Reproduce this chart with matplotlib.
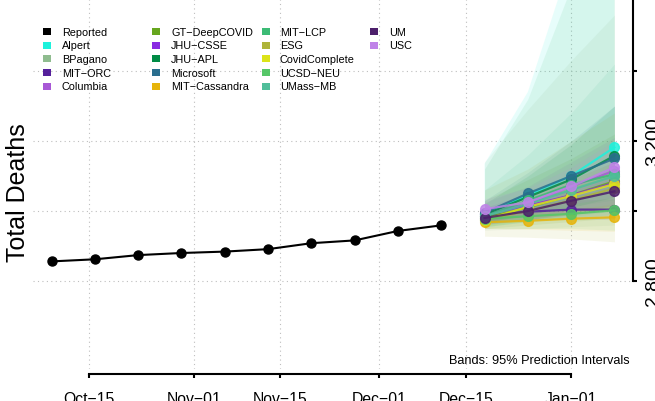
import datetime as dt
import matplotlib
matplotlib.use('Agg')
import matplotlib.pyplot as plt
import matplotlib.dates as mdates
from matplotlib.patches import Rectangle

plt.rcParams['font.family'] = ['Liberation Sans', 'DejaVu Sans']

# reported weekly totals
rep_dates = [dt.date(2021, 10, 9) + dt.timedelta(days=7 * i) for i in range(10)]
rep_vals = [2856, 2862, 2874, 2880, 2884, 2891, 2908, 2916, 2943, 2959]

# forecast dates
fc_dates = [dt.date(2021, 12, 18), dt.date(2021, 12, 25),
            dt.date(2022, 1, 1), dt.date(2022, 1, 8)]

models = ['Alpert', 'BPagano', 'MIT-ORC', 'Columbia', 'GT-DeepCOVID',
          'JHU-CSSE', 'JHU-APL', 'Microsoft', 'MIT-Cassandra', 'MIT-LCP',
          'ESG', 'CovidComplete', 'UCSD-NEU', 'UMass-MB', 'UM', 'USC']
colors = ['#1DF2DC', '#8FBC8F', '#55209B', '#A858D6', '#66A61E',
          '#8A2BE2', '#008B45', '#2A6E8E', '#E6B40A', '#3CBB75',
          '#AEB43A', '#DCE319', '#55C667', '#50BE9A', '#4C1F6B', '#BF82E8']

point = {
    'Alpert':        [2992, 3045, 3100, 3182],
    'BPagano':       [2985, 3025, 3065, 3100],
    'MIT-ORC':       [2985, 2998, 3004, 3004],
    'Columbia':      [2995, 3022, 3070, 3115],
    'GT-DeepCOVID':  [2980, 3010, 3045, 3085],
    'JHU-CSSE':      [2990, 3015, 3045, 3080],
    'JHU-APL':       [2990, 3040, 3090, 3158],
    'Microsoft':     [2995, 3050, 3100, 3150],
    'MIT-Cassandra': [2968, 2972, 2978, 2982],
    'MIT-LCP':       [2985, 3030, 3075, 3105],
    'ESG':           [2975, 3000, 3030, 3065],
    'CovidComplete': [2975, 3012, 3043, 3077],
    'UCSD-NEU':      [2978, 2985, 2992, 3002],
    'UMass-MB':      [2985, 3020, 3060, 3100],
    'UM':            [2980, 3000, 3029, 3056],
    'USC':           [3005, 3025, 3070, 3125],
}
lower = {
    'Alpert':        [2965, 2990, 3010, 3030],
    'BPagano':       [2945, 2950, 2955, 2960],
    'MIT-ORC':       [2968, 2975, 2978, 2975],
    'Columbia':      [2960, 2975, 2995, 3015],
    'GT-DeepCOVID':  [2950, 2960, 2970, 2980],
    'JHU-CSSE':      [2970, 2985, 3000, 3015],
    'JHU-APL':       [2965, 2990, 3010, 3040],
    'Microsoft':     [2970, 3000, 3030, 3060],
    'MIT-Cassandra': [2950, 2948, 2945, 2942],
    'MIT-LCP':       [2955, 2970, 2980, 2990],
    'ESG':           [2928, 2925, 2920, 2912],
    'CovidComplete': [2955, 2975, 2990, 3005],
    'UCSD-NEU':      [2950, 2950, 2950, 2945],
    'UMass-MB':      [2955, 2970, 2985, 3000],
    'UM':            [2962, 2975, 2990, 3005],
    'USC':           [2975, 2990, 3020, 3040],
}
upper = {
    'Alpert':        [3135, 3340, 3720, 4200],
    'BPagano':       [3140, 3290, 3430, 3560],
    'MIT-ORC':       [3000, 3020, 3030, 3035],
    'Columbia':      [3025, 3070, 3140, 3210],
    'GT-DeepCOVID':  [3030, 3090, 3150, 3220],
    'JHU-CSSE':      [3010, 3050, 3090, 3140],
    'JHU-APL':       [3020, 3100, 3190, 3300],
    'Microsoft':     [3030, 3110, 3200, 3300],
    'MIT-Cassandra': [2985, 2995, 3005, 3020],
    'MIT-LCP':       [3120, 3320, 3640, 3900],
    'ESG':           [3060, 3120, 3200, 3280],
    'CovidComplete': [2995, 3045, 3090, 3140],
    'UCSD-NEU':      [3010, 3030, 3045, 3060],
    'UMass-MB':      [3060, 3160, 3280, 3420],
    'UM':            [2998, 3030, 3065, 3105],
    'USC':           [3035, 3065, 3125, 3200],
}

x_ticks = [dt.date(2021, 10, 15), dt.date(2021, 11, 1), dt.date(2021, 11, 15),
           dt.date(2021, 12, 1), dt.date(2021, 12, 15), dt.date(2022, 1, 1)]
x_labels = ['Oct\u221215', 'Nov\u221201', 'Nov\u221215', 'Dec\u221201', 'Dec\u221215', 'Jan\u221201']
y_ticks = [2800, 3000, 3200, 3400]
y_labels = ['2,800', '', '3,200', '']

W, H = 655, 402
fig = plt.figure(figsize=(W / 100, H / 100), dpi=100)
ax = fig.add_axes([33 / W, (H - 370) / H, (633 - 33) / W, 370 / H])

# grid
for xt in x_ticks:
    ax.axvline(xt, color='#BEBEBE', lw=0.8, ls=(0, (1, 3)), zorder=0)
for yt in y_ticks:
    ax.axhline(yt, color='#BEBEBE', lw=0.8, ls=(0, (1, 3)), zorder=0)

# prediction bands
for m, c in zip(models, colors):
    ax.fill_between(fc_dates, lower[m], upper[m], color=c, alpha=0.1, lw=0, zorder=1)

# forecast lines
for m, c in zip(models, colors):
    ax.plot(fc_dates, point[m], color=c, lw=1.6, marker='o', ms=7,
            alpha=0.85, zorder=3)

ax.plot(rep_dates, rep_vals, color='black', lw=1.5, marker='o', ms=6.5, zorder=4)

span = fc_dates[-1] - rep_dates[0]
pad = dt.timedelta(days=span.days * 0.04)
ax.set_xlim(rep_dates[0] - pad, fc_dates[-1] + pad)
ax.set_ylim(2800 - 88 * 200 / 70, 2800 + 282 * 200 / 70)

# axes styling
for s in ['left', 'top']:
    ax.spines[s].set_visible(False)
ax.spines['right'].set_linewidth(1.5)
ax.spines['right'].set_bounds(2800, ax.get_ylim()[1])
ax.spines['bottom'].set_linewidth(1.5)
ax.spines['bottom'].set_position(('outward', 3.6))
ax.spines['bottom'].set_bounds(mdates.date2num(x_ticks[0]), mdates.date2num(x_ticks[-1]))

ax.set_xticks(x_ticks)
ax.set_xticklabels(x_labels, fontsize=11.3)
ax.yaxis.tick_right()
ax.set_yticks(y_ticks)
ax.set_yticklabels(y_labels, fontsize=14, rotation=90, va='center')
ax.tick_params(axis='x', length=3, width=1.5, pad=9)
ax.tick_params(axis='y', length=3, width=1.5, pad=5.5)

fig.text(18 / W, 1 - 193 / H, 'Total Deaths', rotation=90, fontsize=18,
         ha='center', va='center')
fig.text(630 / W, 1 - 361 / H, 'Bands: 95% Prediction Intervals', fontsize=9.2,
         ha='right', va='center')

# legend drawn by hand
names = ['Reported'] + models
cols = ['#000000'] + colors
patch_x = [43, 152, 262, 370]
text_x = [62, 171, 280, 389]
for i, (n, c) in enumerate(zip(names, cols)):
    col, row = divmod(i, 5)
    yc = 32.5 + 13.7 * row
    fig.add_artist(Rectangle((patch_x[col] / W, 1 - (yc + 3.5) / H), 8 / W, 7 / H,
                             transform=fig.transFigure, color=c, lw=0))
    fig.text(text_x[col] / W, 1 - yc / H, n.replace('-', '\u2212'), fontsize=7.8,
             ha='left', va='center')

fig.savefig('out.png', dpi=100)
